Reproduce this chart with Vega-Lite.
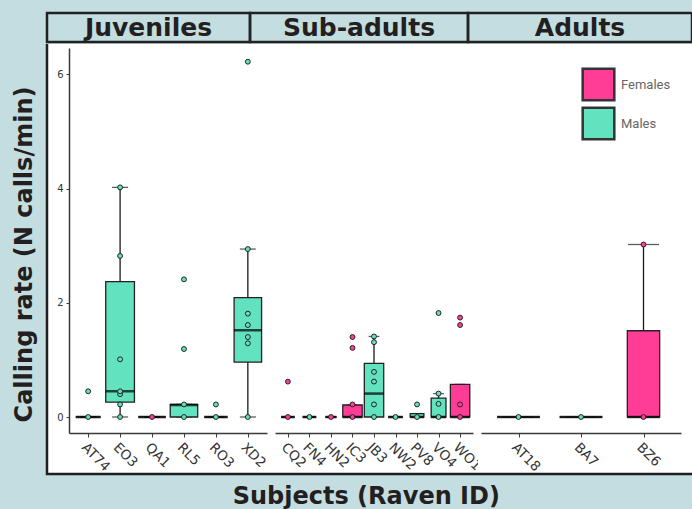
{
  "$schema": "https://vega.github.io/schema/vega-lite/v6.json",
  "background": "#c4dde1",
  "autosize": {"type": "pad"},
  "padding": {"left": 11, "top": 11, "right": 0, "bottom": 0},
  "title": {"text": "Subjects (Raven ID)", "orient": "bottom", "anchor": "middle", "frame": "bounds", "offset": 10, "dx": 14, "font": "DejaVu Sans", "fontSize": 24, "fontWeight": "bold", "color": "#231f20"},
  "datasets": {
    "boxes": [
      {"group": "Juveniles", "subject": "AT74", "sex": "Males", "n": 9, "lo": 0, "q1": 0, "med": 0, "q3": 0, "hi": 0},
      {"group": "Juveniles", "subject": "EO3", "sex": "Males", "n": 12, "lo": 0, "q1": 0.26, "med": 0.45, "q3": 2.37, "hi": 4.02},
      {"group": "Juveniles", "subject": "QA1", "sex": "Females", "n": 11, "lo": 0, "q1": 0, "med": 0, "q3": 0, "hi": 0},
      {"group": "Juveniles", "subject": "RL5", "sex": "Males", "n": 11, "lo": 0, "q1": 0, "med": 0.21, "q3": 0.22, "hi": 0.22},
      {"group": "Juveniles", "subject": "RO3", "sex": "Males", "n": 8, "lo": 0, "q1": 0, "med": 0, "q3": 0, "hi": 0},
      {"group": "Juveniles", "subject": "XD2", "sex": "Males", "n": 11, "lo": 0, "q1": 0.96, "med": 1.52, "q3": 2.09, "hi": 2.94},
      {"group": "Sub-adults", "subject": "CQ2", "sex": "Females", "n": 6, "lo": 0, "q1": 0, "med": 0, "q3": 0, "hi": 0},
      {"group": "Sub-adults", "subject": "FN4", "sex": "Males", "n": 6, "lo": 0, "q1": 0, "med": 0, "q3": 0, "hi": 0},
      {"group": "Sub-adults", "subject": "HN2", "sex": "Females", "n": 4, "lo": 0, "q1": 0, "med": 0, "q3": 0, "hi": 0},
      {"group": "Sub-adults", "subject": "IC3", "sex": "Females", "n": 12, "lo": 0, "q1": 0, "med": 0, "q3": 0.21, "hi": 0.21},
      {"group": "Sub-adults", "subject": "JB3", "sex": "Males", "n": 12, "lo": 0, "q1": 0, "med": 0.41, "q3": 0.94, "hi": 1.41},
      {"group": "Sub-adults", "subject": "NW2", "sex": "Males", "n": 7, "lo": 0, "q1": 0, "med": 0, "q3": 0, "hi": 0},
      {"group": "Sub-adults", "subject": "PV8", "sex": "Males", "n": 6, "lo": 0, "q1": 0, "med": 0, "q3": 0.06, "hi": 0.06},
      {"group": "Sub-adults", "subject": "VO4", "sex": "Males", "n": 7, "lo": 0, "q1": 0, "med": 0, "q3": 0.33, "hi": 0.41},
      {"group": "Sub-adults", "subject": "WO1", "sex": "Females", "n": 12, "lo": 0, "q1": 0, "med": 0, "q3": 0.57, "hi": 0.57},
      {"group": "Adults", "subject": "AT18", "sex": "Males", "n": 7, "lo": 0, "q1": 0, "med": 0, "q3": 0, "hi": 0},
      {"group": "Adults", "subject": "BA7", "sex": "Males", "n": 7, "lo": 0, "q1": 0, "med": 0, "q3": 0, "hi": 0},
      {"group": "Adults", "subject": "BZ6", "sex": "Females", "n": 4, "lo": 0, "q1": 0, "med": 0, "q3": 1.51, "hi": 3.02}
    ],
    "points": [
      {"group": "Juveniles", "subject": "AT74", "sex": "Males", "v": 0},
      {"group": "Juveniles", "subject": "AT74", "sex": "Males", "v": 0.45},
      {"group": "Juveniles", "subject": "EO3", "sex": "Males", "v": 0},
      {"group": "Juveniles", "subject": "EO3", "sex": "Males", "v": 0.22},
      {"group": "Juveniles", "subject": "EO3", "sex": "Males", "v": 0.4},
      {"group": "Juveniles", "subject": "EO3", "sex": "Males", "v": 0.45},
      {"group": "Juveniles", "subject": "EO3", "sex": "Males", "v": 1.01},
      {"group": "Juveniles", "subject": "EO3", "sex": "Males", "v": 2.82},
      {"group": "Juveniles", "subject": "EO3", "sex": "Males", "v": 4.02},
      {"group": "Juveniles", "subject": "QA1", "sex": "Females", "v": 0},
      {"group": "Juveniles", "subject": "RL5", "sex": "Males", "v": 0},
      {"group": "Juveniles", "subject": "RL5", "sex": "Males", "v": 0.22},
      {"group": "Juveniles", "subject": "RL5", "sex": "Males", "v": 1.19},
      {"group": "Juveniles", "subject": "RL5", "sex": "Males", "v": 2.41},
      {"group": "Juveniles", "subject": "RO3", "sex": "Males", "v": 0},
      {"group": "Juveniles", "subject": "RO3", "sex": "Males", "v": 0.22},
      {"group": "Juveniles", "subject": "XD2", "sex": "Males", "v": 0},
      {"group": "Juveniles", "subject": "XD2", "sex": "Males", "v": 1.29},
      {"group": "Juveniles", "subject": "XD2", "sex": "Males", "v": 1.4},
      {"group": "Juveniles", "subject": "XD2", "sex": "Males", "v": 1.61},
      {"group": "Juveniles", "subject": "XD2", "sex": "Males", "v": 1.81},
      {"group": "Juveniles", "subject": "XD2", "sex": "Males", "v": 2.94},
      {"group": "Juveniles", "subject": "XD2", "sex": "Males", "v": 6.22},
      {"group": "Sub-adults", "subject": "CQ2", "sex": "Females", "v": 0},
      {"group": "Sub-adults", "subject": "CQ2", "sex": "Females", "v": 0.62},
      {"group": "Sub-adults", "subject": "FN4", "sex": "Males", "v": 0},
      {"group": "Sub-adults", "subject": "HN2", "sex": "Females", "v": 0},
      {"group": "Sub-adults", "subject": "IC3", "sex": "Females", "v": 0},
      {"group": "Sub-adults", "subject": "IC3", "sex": "Females", "v": 0.22},
      {"group": "Sub-adults", "subject": "IC3", "sex": "Females", "v": 1.21},
      {"group": "Sub-adults", "subject": "IC3", "sex": "Females", "v": 1.4},
      {"group": "Sub-adults", "subject": "JB3", "sex": "Males", "v": 0},
      {"group": "Sub-adults", "subject": "JB3", "sex": "Males", "v": 0.22},
      {"group": "Sub-adults", "subject": "JB3", "sex": "Males", "v": 0.62},
      {"group": "Sub-adults", "subject": "JB3", "sex": "Males", "v": 0.79},
      {"group": "Sub-adults", "subject": "JB3", "sex": "Males", "v": 1.31},
      {"group": "Sub-adults", "subject": "JB3", "sex": "Males", "v": 1.41},
      {"group": "Sub-adults", "subject": "NW2", "sex": "Males", "v": 0},
      {"group": "Sub-adults", "subject": "PV8", "sex": "Males", "v": 0},
      {"group": "Sub-adults", "subject": "PV8", "sex": "Males", "v": 0.22},
      {"group": "Sub-adults", "subject": "VO4", "sex": "Males", "v": 0},
      {"group": "Sub-adults", "subject": "VO4", "sex": "Males", "v": 0.23},
      {"group": "Sub-adults", "subject": "VO4", "sex": "Males", "v": 0.41},
      {"group": "Sub-adults", "subject": "VO4", "sex": "Males", "v": 1.82},
      {"group": "Sub-adults", "subject": "WO1", "sex": "Females", "v": 0},
      {"group": "Sub-adults", "subject": "WO1", "sex": "Females", "v": 0.22},
      {"group": "Sub-adults", "subject": "WO1", "sex": "Females", "v": 1.61},
      {"group": "Sub-adults", "subject": "WO1", "sex": "Females", "v": 1.74},
      {"group": "Adults", "subject": "AT18", "sex": "Males", "v": 0},
      {"group": "Adults", "subject": "BA7", "sex": "Males", "v": 0},
      {"group": "Adults", "subject": "BZ6", "sex": "Females", "v": 0},
      {"group": "Adults", "subject": "BZ6", "sex": "Females", "v": 3.02}
    ]
  },
  "spacing": -4,
  "vconcat": [
    {
      "spacing": 0,
      "bounds": "flush",
      "hconcat": [
        {"width": 203, "height": 29, "view": {"stroke": "#222222", "strokeWidth": 2.5},
         "data": {"values": [{"g": "Juveniles"}]},
         "mark": {"type": "text", "font": "DejaVu Sans", "fontWeight": "bold", "fontSize": 25, "color": "#231f20", "align": "center", "baseline": "middle"},
         "encoding": {"text": {"field": "g"}}},
        {"width": 218, "height": 29, "view": {"stroke": "#222222", "strokeWidth": 2.5},
         "data": {"values": [{"g": "Sub-adults"}]},
         "mark": {"type": "text", "font": "DejaVu Sans", "fontWeight": "bold", "fontSize": 25, "color": "#231f20", "align": "center", "baseline": "middle"},
         "encoding": {"text": {"field": "g"}}},
        {"width": 224, "height": 29, "view": {"stroke": "#222222", "strokeWidth": 2.5},
         "data": {"values": [{"g": "Adults"}]},
         "mark": {"type": "text", "font": "DejaVu Sans", "fontWeight": "bold", "fontSize": 25, "color": "#231f20", "align": "center", "baseline": "middle"},
         "encoding": {"text": {"field": "g"}}}
      ]
    },
    {
      "spacing": 0,
      "bounds": "flush",
      "resolve": {"scale": {"x": "independent", "y": "independent", "size": "independent"}},
      "hconcat": [
        {
          "width": 226, "height": 430,
          "view": {"fill": "#ffffff", "stroke": "#1f1f1f", "strokeWidth": 2.5, "strokeDash": [0, 656, 656, 0]},
          "layer": [
            {"data": {"name": "boxes"}, "transform": [{"filter": "datum.group === 'Juveniles'"}],
             "mark": {"type": "rule", "color": "#1a1a1a", "strokeWidth": 1.3},
             "encoding": {
               "x": {"field": "subject", "type": "nominal", "scale": {"type": "point", "domain": ["AT74", "EO3", "QA1", "RL5", "RO3", "XD2"], "range": [22, 220], "padding": 0.6}, "axis": {"title": null, "labelAngle": 45, "offset": -41, "labelFontSize": 13.5, "tickSize": 4, "labelPadding": 3}},
               "y": {"field": "lo", "type": "quantitative", "scale": {"domain": [-0.28, 6.46], "range": [389, 4], "nice": false, "zero": false}, "axis": {"title": "Calling rate (N calls/min)", "values": [0, 2, 4, 6], "offset": -22, "titlePadding": 20, "titleY": 210, "labelFontSize": 10, "tickSize": 3, "labelPadding": 3}},
               "y2": {"field": "hi"}}},
            {"data": {"name": "boxes"}, "transform": [{"filter": "datum.group === 'Juveniles'"}],
             "mark": {"type": "tick", "orient": "horizontal", "color": "#1a1a1a", "thickness": 1.3, "size": 16},
             "encoding": {
               "x": {"field": "subject", "type": "nominal", "scale": {"type": "point", "domain": ["AT74", "EO3", "QA1", "RL5", "RO3", "XD2"], "range": [22, 220], "padding": 0.6}, "axis": {"title": null, "labelAngle": 45, "offset": -41, "labelFontSize": 13.5, "tickSize": 4, "labelPadding": 3}},
               "y": {"field": "hi", "type": "quantitative", "scale": {"domain": [-0.28, 6.46], "range": [389, 4], "nice": false, "zero": false}, "axis": {"title": "Calling rate (N calls/min)", "values": [0, 2, 4, 6], "offset": -22, "titlePadding": 20, "titleY": 210, "labelFontSize": 10, "tickSize": 3, "labelPadding": 3}}}},
            {"data": {"name": "boxes"}, "transform": [{"filter": "datum.group === 'Juveniles'"}],
             "mark": {"type": "tick", "orient": "horizontal", "color": "#1a1a1a", "thickness": 1.3, "size": 16},
             "encoding": {
               "x": {"field": "subject", "type": "nominal", "scale": {"type": "point", "domain": ["AT74", "EO3", "QA1", "RL5", "RO3", "XD2"], "range": [22, 220], "padding": 0.6}, "axis": {"title": null, "labelAngle": 45, "offset": -41, "labelFontSize": 13.5, "tickSize": 4, "labelPadding": 3}},
               "y": {"field": "lo", "type": "quantitative", "scale": {"domain": [-0.28, 6.46], "range": [389, 4], "nice": false, "zero": false}, "axis": {"title": "Calling rate (N calls/min)", "values": [0, 2, 4, 6], "offset": -22, "titlePadding": 20, "titleY": 210, "labelFontSize": 10, "tickSize": 3, "labelPadding": 3}}}},
            {"data": {"name": "boxes"}, "transform": [{"filter": "datum.group === 'Juveniles'"}],
             "mark": {"type": "bar", "stroke": "#222222", "strokeWidth": 1.3},
             "encoding": {
               "x": {"field": "subject", "type": "nominal", "scale": {"type": "point", "domain": ["AT74", "EO3", "QA1", "RL5", "RO3", "XD2"], "range": [22, 220], "padding": 0.6}, "axis": {"title": null, "labelAngle": 45, "offset": -41, "labelFontSize": 13.5, "tickSize": 4, "labelPadding": 3}},
               "y": {"field": "q1", "type": "quantitative", "scale": {"domain": [-0.28, 6.46], "range": [389, 4], "nice": false, "zero": false}, "axis": {"title": "Calling rate (N calls/min)", "values": [0, 2, 4, 6], "offset": -22, "titlePadding": 20, "titleY": 210, "labelFontSize": 10, "tickSize": 3, "labelPadding": 3}},
               "y2": {"field": "q3"},
               "fill": {"field": "sex", "type": "nominal", "scale": {"domain": ["Females", "Males"], "range": ["#ff3d97", "#62e2bf"]}, "legend": {"title": null, "orient": "none", "legendX": 534, "legendY": 54}},
               "size": {"field": "n", "type": "quantitative", "scale": {"type": "sqrt", "domain": [0, 12], "range": [0, 28.7]}, "legend": null}}},
            {"data": {"name": "boxes"}, "transform": [{"filter": "datum.group === 'Juveniles'"}],
             "mark": {"type": "tick", "orient": "horizontal", "color": "#000000", "thickness": 2.6},
             "encoding": {
               "x": {"field": "subject", "type": "nominal", "scale": {"type": "point", "domain": ["AT74", "EO3", "QA1", "RL5", "RO3", "XD2"], "range": [22, 220], "padding": 0.6}, "axis": {"title": null, "labelAngle": 45, "offset": -41, "labelFontSize": 13.5, "tickSize": 4, "labelPadding": 3}},
               "y": {"field": "med", "type": "quantitative", "scale": {"domain": [-0.28, 6.46], "range": [389, 4], "nice": false, "zero": false}, "axis": {"title": "Calling rate (N calls/min)", "values": [0, 2, 4, 6], "offset": -22, "titlePadding": 20, "titleY": 210, "labelFontSize": 10, "tickSize": 3, "labelPadding": 3}},
               "size": {"field": "n", "type": "quantitative", "scale": {"type": "sqrt", "domain": [0, 12], "range": [0, 28.7]}, "legend": null}}},
            {"data": {"name": "points"}, "transform": [{"filter": "datum.group === 'Juveniles'"}],
             "mark": {"type": "point", "filled": true, "size": 24, "stroke": "#222222", "strokeWidth": 1, "opacity": 1},
             "encoding": {
               "x": {"field": "subject", "type": "nominal", "scale": {"type": "point", "domain": ["AT74", "EO3", "QA1", "RL5", "RO3", "XD2"], "range": [22, 220], "padding": 0.6}, "axis": {"title": null, "labelAngle": 45, "offset": -41, "labelFontSize": 13.5, "tickSize": 4, "labelPadding": 3}},
               "y": {"field": "v", "type": "quantitative", "scale": {"domain": [-0.28, 6.46], "range": [389, 4], "nice": false, "zero": false}, "axis": {"title": "Calling rate (N calls/min)", "values": [0, 2, 4, 6], "offset": -22, "titlePadding": 20, "titleY": 210, "labelFontSize": 10, "tickSize": 3, "labelPadding": 3}},
               "fill": {"field": "sex", "type": "nominal", "scale": {"domain": ["Females", "Males"], "range": ["#ff3d97", "#62e2bf"]}, "legend": {"title": null, "orient": "none", "legendX": 534, "legendY": 54}}}}
          ]
        },
        {
          "width": 205, "height": 430,
          "view": {"fill": "#ffffff", "stroke": "#1f1f1f", "strokeWidth": 2.5, "strokeDash": [0, 635, 205, 430]},
          "layer": [
            {"data": {"name": "boxes"}, "transform": [{"filter": "datum.group === 'Sub-adults'"}],
             "mark": {"type": "rule", "color": "#1a1a1a", "strokeWidth": 1.3},
             "encoding": {
               "x": {"field": "subject", "type": "nominal", "scale": {"type": "point", "domain": ["CQ2", "FN4", "HN2", "IC3", "JB3", "NW2", "PV8", "VO4", "WO1"], "range": [2, 200], "padding": 0.6}, "axis": {"title": null, "labelAngle": 45, "offset": -41, "labelFontSize": 13.5, "tickSize": 4, "labelPadding": 3}},
               "y": {"field": "lo", "type": "quantitative", "scale": {"domain": [-0.28, 6.46], "range": [389, 4], "nice": false, "zero": false}, "axis": null},
               "y2": {"field": "hi"}}},
            {"data": {"name": "boxes"}, "transform": [{"filter": "datum.group === 'Sub-adults'"}],
             "mark": {"type": "tick", "orient": "horizontal", "color": "#1a1a1a", "thickness": 1.3, "size": 10.7},
             "encoding": {
               "x": {"field": "subject", "type": "nominal", "scale": {"type": "point", "domain": ["CQ2", "FN4", "HN2", "IC3", "JB3", "NW2", "PV8", "VO4", "WO1"], "range": [2, 200], "padding": 0.6}, "axis": {"title": null, "labelAngle": 45, "offset": -41, "labelFontSize": 13.5, "tickSize": 4, "labelPadding": 3}},
               "y": {"field": "hi", "type": "quantitative", "scale": {"domain": [-0.28, 6.46], "range": [389, 4], "nice": false, "zero": false}, "axis": null}}},
            {"data": {"name": "boxes"}, "transform": [{"filter": "datum.group === 'Sub-adults'"}],
             "mark": {"type": "bar", "stroke": "#222222", "strokeWidth": 1.3},
             "encoding": {
               "x": {"field": "subject", "type": "nominal", "scale": {"type": "point", "domain": ["CQ2", "FN4", "HN2", "IC3", "JB3", "NW2", "PV8", "VO4", "WO1"], "range": [2, 200], "padding": 0.6}, "axis": {"title": null, "labelAngle": 45, "offset": -41, "labelFontSize": 13.5, "tickSize": 4, "labelPadding": 3}},
               "y": {"field": "q1", "type": "quantitative", "scale": {"domain": [-0.28, 6.46], "range": [389, 4], "nice": false, "zero": false}, "axis": null},
               "y2": {"field": "q3"},
               "fill": {"field": "sex", "type": "nominal", "scale": {"domain": ["Females", "Males"], "range": ["#ff3d97", "#62e2bf"]}, "legend": {"title": null, "orient": "none", "legendX": 534, "legendY": 54}},
               "size": {"field": "n", "type": "quantitative", "scale": {"type": "sqrt", "domain": [0, 12], "range": [0, 19.4]}, "legend": null}}},
            {"data": {"name": "boxes"}, "transform": [{"filter": "datum.group === 'Sub-adults'"}],
             "mark": {"type": "tick", "orient": "horizontal", "color": "#000000", "thickness": 2.6},
             "encoding": {
               "x": {"field": "subject", "type": "nominal", "scale": {"type": "point", "domain": ["CQ2", "FN4", "HN2", "IC3", "JB3", "NW2", "PV8", "VO4", "WO1"], "range": [2, 200], "padding": 0.6}, "axis": {"title": null, "labelAngle": 45, "offset": -41, "labelFontSize": 13.5, "tickSize": 4, "labelPadding": 3}},
               "y": {"field": "med", "type": "quantitative", "scale": {"domain": [-0.28, 6.46], "range": [389, 4], "nice": false, "zero": false}, "axis": null},
               "size": {"field": "n", "type": "quantitative", "scale": {"type": "sqrt", "domain": [0, 12], "range": [0, 19.4]}, "legend": null}}},
            {"data": {"name": "points"}, "transform": [{"filter": "datum.group === 'Sub-adults'"}],
             "mark": {"type": "point", "filled": true, "size": 24, "stroke": "#222222", "strokeWidth": 1, "opacity": 1},
             "encoding": {
               "x": {"field": "subject", "type": "nominal", "scale": {"type": "point", "domain": ["CQ2", "FN4", "HN2", "IC3", "JB3", "NW2", "PV8", "VO4", "WO1"], "range": [2, 200], "padding": 0.6}, "axis": {"title": null, "labelAngle": 45, "offset": -41, "labelFontSize": 13.5, "tickSize": 4, "labelPadding": 3}},
               "y": {"field": "v", "type": "quantitative", "scale": {"domain": [-0.28, 6.46], "range": [389, 4], "nice": false, "zero": false}, "axis": null},
               "fill": {"field": "sex", "type": "nominal", "scale": {"domain": ["Females", "Males"], "range": ["#ff3d97", "#62e2bf"]}, "legend": {"title": null, "orient": "none", "legendX": 534, "legendY": 54}}}}
          ]
        },
        {
          "width": 214, "height": 430,
          "view": {"fill": "#ffffff", "stroke": "#1f1f1f", "strokeWidth": 2.5, "strokeDash": [0, 644, 214, 430]},
          "layer": [
            {"data": {"name": "boxes"}, "transform": [{"filter": "datum.group === 'Adults'"}],
             "mark": {"type": "rule", "color": "#1a1a1a", "strokeWidth": 1.3},
             "encoding": {
               "x": {"field": "subject", "type": "nominal", "scale": {"type": "point", "domain": ["AT18", "BA7", "BZ6"], "range": [3, 203], "padding": 0.6}, "axis": {"title": null, "labelAngle": 45, "offset": -41, "labelFontSize": 13.5, "tickSize": 4, "labelPadding": 3}},
               "y": {"field": "lo", "type": "quantitative", "scale": {"domain": [-0.28, 6.46], "range": [389, 4], "nice": false, "zero": false}, "axis": null},
               "y2": {"field": "hi"}}},
            {"data": {"name": "boxes"}, "transform": [{"filter": "datum.group === 'Adults'"}],
             "mark": {"type": "tick", "orient": "horizontal", "color": "#1a1a1a", "thickness": 1.3, "size": 31},
             "encoding": {
               "x": {"field": "subject", "type": "nominal", "scale": {"type": "point", "domain": ["AT18", "BA7", "BZ6"], "range": [3, 203], "padding": 0.6}, "axis": {"title": null, "labelAngle": 45, "offset": -41, "labelFontSize": 13.5, "tickSize": 4, "labelPadding": 3}},
               "y": {"field": "hi", "type": "quantitative", "scale": {"domain": [-0.28, 6.46], "range": [389, 4], "nice": false, "zero": false}, "axis": null}}},
            {"data": {"name": "boxes"}, "transform": [{"filter": "datum.group === 'Adults'"}],
             "mark": {"type": "bar", "stroke": "#222222", "strokeWidth": 1.3},
             "encoding": {
               "x": {"field": "subject", "type": "nominal", "scale": {"type": "point", "domain": ["AT18", "BA7", "BZ6"], "range": [3, 203], "padding": 0.6}, "axis": {"title": null, "labelAngle": 45, "offset": -41, "labelFontSize": 13.5, "tickSize": 4, "labelPadding": 3}},
               "y": {"field": "q1", "type": "quantitative", "scale": {"domain": [-0.28, 6.46], "range": [389, 4], "nice": false, "zero": false}, "axis": null},
               "y2": {"field": "q3"},
               "fill": {"field": "sex", "type": "nominal", "scale": {"domain": ["Females", "Males"], "range": ["#ff3d97", "#62e2bf"]}, "legend": {"title": null, "orient": "none", "legendX": 534, "legendY": 54}},
               "size": {"field": "n", "type": "quantitative", "scale": {"type": "sqrt", "domain": [0, 12], "range": [0, 56]}, "legend": null}}},
            {"data": {"name": "boxes"}, "transform": [{"filter": "datum.group === 'Adults'"}],
             "mark": {"type": "tick", "orient": "horizontal", "color": "#000000", "thickness": 2.6},
             "encoding": {
               "x": {"field": "subject", "type": "nominal", "scale": {"type": "point", "domain": ["AT18", "BA7", "BZ6"], "range": [3, 203], "padding": 0.6}, "axis": {"title": null, "labelAngle": 45, "offset": -41, "labelFontSize": 13.5, "tickSize": 4, "labelPadding": 3}},
               "y": {"field": "med", "type": "quantitative", "scale": {"domain": [-0.28, 6.46], "range": [389, 4], "nice": false, "zero": false}, "axis": null},
               "size": {"field": "n", "type": "quantitative", "scale": {"type": "sqrt", "domain": [0, 12], "range": [0, 56]}, "legend": null}}},
            {"data": {"name": "points"}, "transform": [{"filter": "datum.group === 'Adults'"}],
             "mark": {"type": "point", "filled": true, "size": 24, "stroke": "#222222", "strokeWidth": 1, "opacity": 1},
             "encoding": {
               "x": {"field": "subject", "type": "nominal", "scale": {"type": "point", "domain": ["AT18", "BA7", "BZ6"], "range": [3, 203], "padding": 0.6}, "axis": {"title": null, "labelAngle": 45, "offset": -41, "labelFontSize": 13.5, "tickSize": 4, "labelPadding": 3}},
               "y": {"field": "v", "type": "quantitative", "scale": {"domain": [-0.28, 6.46], "range": [389, 4], "nice": false, "zero": false}, "axis": null},
               "fill": {"field": "sex", "type": "nominal", "scale": {"domain": ["Females", "Males"], "range": ["#ff3d97", "#62e2bf"]}, "legend": {"title": null, "orient": "none", "legendX": 534, "legendY": 54}}}}
          ]
        }
      ]
    }
  ],
  "config": {
    "view": {"stroke": null},
    "axis": {"grid": false, "domainColor": "#3a3a3a", "domainWidth": 1.5, "tickColor": "#3a3a3a", "tickWidth": 1, "labelColor": "#333333", "labelFont": "DejaVu Sans", "titleFont": "DejaVu Sans", "titleFontWeight": "bold", "titleFontSize": 24, "titleColor": "#231f20"},
    "legend": {"symbolType": "square", "symbolSize": 1000, "symbolStrokeColor": "#333333", "symbolStrokeWidth": 2.5, "labelFont": "Roboto", "labelFontSize": 13, "labelColor": "#666666", "labelOffset": 5, "rowPadding": -11, "padding": 0}
  }
}
